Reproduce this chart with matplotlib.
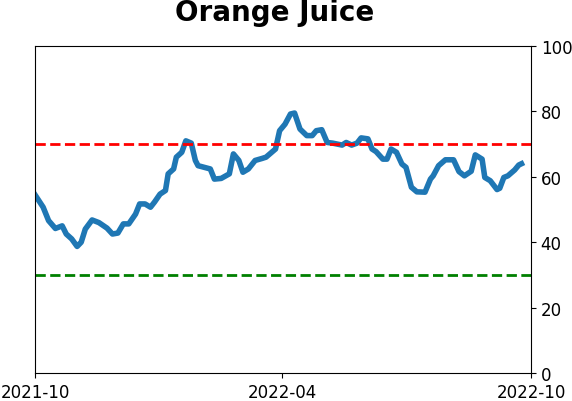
import numpy as np
import pandas as pd
import matplotlib
matplotlib.use('Agg')
import matplotlib.pyplot as plt
import matplotlib.dates as mdates

dates = ['2021-10-01', '2021-10-07', '2021-10-11', '2021-10-16', '2021-10-21', '2021-10-24',
         '2021-10-28', '2021-11-01', '2021-11-04', '2021-11-07', '2021-11-12', '2021-11-17',
         '2021-11-23', '2021-11-27', '2021-12-01', '2021-12-05', '2021-12-09', '2021-12-14',
         '2021-12-17', '2021-12-21', '2021-12-25', '2021-12-28', '2022-01-01', '2022-01-05',
         '2022-01-07', '2022-01-11', '2022-01-13', '2022-01-17', '2022-01-20', '2022-01-24',
         '2022-01-27', '2022-01-29', '2022-02-07', '2022-02-10', '2022-02-15', '2022-02-21',
         '2022-02-24', '2022-02-28', '2022-03-03', '2022-03-07', '2022-03-12', '2022-03-17',
         '2022-03-20', '2022-03-27', '2022-03-30', '2022-04-03', '2022-04-07', '2022-04-10',
         '2022-04-14', '2022-04-19', '2022-04-23', '2022-04-26', '2022-04-30', '2022-05-04',
         '2022-05-08', '2022-05-15', '2022-05-18', '2022-05-22', '2022-05-26', '2022-05-29',
         '2022-06-03', '2022-06-06', '2022-06-09', '2022-06-14', '2022-06-17', '2022-06-20',
         '2022-06-24', '2022-06-28', '2022-07-01', '2022-07-05', '2022-07-09', '2022-07-15',
         '2022-07-19', '2022-07-21', '2022-07-25', '2022-07-30', '2022-08-05', '2022-08-09',
         '2022-08-13', '2022-08-18', '2022-08-21', '2022-08-26', '2022-08-28', '2022-09-01',
         '2022-09-06', '2022-09-08', '2022-09-11', '2022-09-14', '2022-09-19', '2022-09-22',
         '2022-09-24']
values = [54.5, 50.7, 46.6, 44.2, 45.0, 42.5,
          41.0, 38.7, 40.0, 44.0, 46.8, 46.0,
          44.3, 42.5, 42.8, 45.6, 45.6, 48.6,
          51.7, 51.7, 50.7, 52.3, 54.7, 55.8,
          60.9, 62.4, 66.0, 67.5, 71.0, 70.3,
          65.0, 63.4, 62.4, 59.3, 59.5, 60.9,
          67.0, 65.0, 61.4, 62.4, 65.0, 65.6,
          66.0, 68.5, 74.1, 76.1, 79.2, 79.5,
          74.6, 72.6, 72.6, 74.1, 74.4, 70.5,
          70.3, 69.7, 70.5, 69.7, 70.3, 71.9,
          71.6, 68.5, 67.7, 65.4, 65.4, 68.5,
          67.5, 63.9, 62.9, 56.8, 55.4, 55.3,
          59.3, 60.3, 63.4, 65.2, 65.2, 61.6,
          60.3, 61.7, 66.7, 65.4, 59.8, 58.8,
          56.1, 56.5, 59.8, 60.3, 62.1, 63.6,
          64.0]
upper = 70
lower = 30
x_ticks = ['2021-10-01', '2022-04-01', '2022-10-01']
title = 'Orange Juice'

dates = pd.to_datetime(dates)

fig = plt.figure(figsize=(5.72, 4.02), dpi=100)
ax = fig.add_axes([35 / 572, 1 - 374 / 402, 496 / 572, 327 / 402])

ax.plot(dates, values, color='#1f77b4', lw=4)
ax.axhline(upper, color='red', ls='--', lw=2)
ax.axhline(lower, color='green', ls='--', lw=2)

ax.set_xlim(pd.Timestamp('2021-10-01'), pd.Timestamp('2022-10-01'))
ax.set_ylim(0, 100)
ax.yaxis.tick_right()
ax.set_xticks(pd.to_datetime(x_ticks))
ax.xaxis.set_major_formatter(mdates.DateFormatter('%Y-%m'))
ax.tick_params(labelsize=12)

# title sits a bit left of the axes centre in the original
fig.text(275 / 572, 1 - 21 / 402, title, fontsize=20, fontweight='bold',
         ha='center', va='baseline')

fig.savefig('out.png', dpi=100)
